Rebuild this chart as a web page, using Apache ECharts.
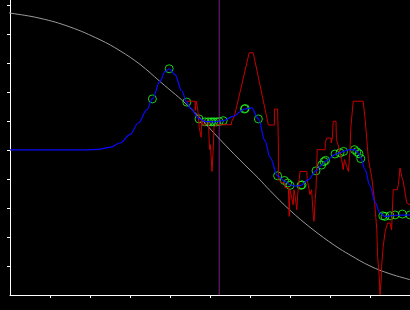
<!DOCTYPE html>
<html>
<head>
<meta charset="utf-8">
<script src="https://cdn.jsdelivr.net/npm/echarts@6/dist/echarts.min.js"></script>
<style>
html,body{margin:0;padding:0;background:#000;}
#chart{width:410px;height:310px;}
</style>
</head>
<body>
<div id="chart"></div>
<script>
// Axis ticks
const xTicks = [1, 2, 3, 4, 5, 6, 7, 8, 9];
const yTicks = [1, 2, 3, 4, 5, 6, 7, 8, 9, 10];

// Gray reference curve
const grayCurve = [[-0.25, 9.76], [0, 9.72], [0.75, 9.54], [1.5, 9.24], [2.25, 8.80], [2.75, 8.42], [3.25, 7.95], [3.75, 7.36], [4.5, 6.46], [5.25, 5.36], [5.75, 4.65], [6.2, 4.04], [6.5, 3.60], [7.0, 2.92], [7.55, 2.28], [8.125, 1.70], [8.5, 1.38], [9.0, 1.0], [9.5, 0.73], [10, 0.53]];

// Blue smooth curve
const blueCurve = [[0, 5.0], [1.875, 5.0], [2.2, 5.02], [2.5, 5.09], [2.75, 5.24], [3.0, 5.53], [3.21, 5.93], [3.42, 6.38], [3.56, 6.76], [3.75, 7.37], [3.875, 7.70], [3.98, 7.80], [4.125, 7.60], [4.29, 7.05], [4.42, 6.65], [4.5, 6.45], [4.725, 6.08], [4.875, 5.98], [5.1, 5.97], [5.33, 6.01], [5.58, 6.16], [5.86, 6.41], [6.04, 6.45], [6.21, 6.07], [6.375, 5.32], [6.5, 4.75], [6.69, 4.11], [6.86, 3.93], [7.0, 3.80], [7.125, 3.75], [7.275, 3.78], [7.46, 3.98], [7.65, 4.28], [7.79, 4.48], [7.89, 4.62], [8.125, 4.84], [8.25, 4.91], [8.34, 4.95], [8.5, 5.01], [8.61, 5.01], [8.67, 4.95], [8.725, 4.86], [8.77, 4.72], [8.875, 4.32], [9.0, 3.76], [9.125, 3.20], [9.25, 2.82], [9.375, 2.71], [9.625, 2.75], [10, 2.76]];

// Red jagged series
const redSeries = [[4.42, 6.68], [4.63, 6.68], [4.63, 6.36], [4.66, 6.36], [4.66, 6.68], [4.70, 6.68], [4.70, 6.32], [4.73, 6.32], [4.73, 5.77], [4.76, 5.77], [4.78, 5.44], [4.79, 6.05], [4.83, 6.05], [4.83, 5.86], [4.90, 5.86], [4.90, 5.98], [4.96, 5.98], [4.99, 5.01], [5.01, 5.18], [5.05, 4.26], [5.08, 5.01], [5.10, 5.80], [5.17, 5.87], [5.54, 5.87], [5.54, 5.98], [5.61, 6.16], [5.98, 8.35], [6.08, 8.35], [6.46, 5.86], [6.61, 5.86], [6.61, 6.41], [6.69, 6.41], [6.71, 5.25], [6.71, 3.98], [6.78, 3.87], [6.85, 3.87], [6.88, 3.70], [6.96, 3.70], [6.98, 2.71], [7.00, 3.63], [7.05, 3.63], [7.08, 3.11], [7.10, 3.63], [7.13, 3.40], [7.17, 2.94], [7.19, 3.42], [7.23, 3.42], [7.25, 4.26], [7.42, 4.26], [7.43, 3.98], [7.48, 3.98], [7.50, 3.46], [7.54, 3.63], [7.58, 2.77], [7.60, 2.54], [7.63, 3.29], [7.65, 3.63], [7.68, 5.01], [7.88, 5.01], [7.88, 5.24], [7.92, 5.41], [8.03, 5.41], [8.03, 5.24], [8.06, 5.42], [8.08, 5.99], [8.15, 5.99], [8.16, 5.36], [8.20, 5.18], [8.25, 4.90], [8.29, 4.67], [8.33, 4.32], [8.36, 4.67], [8.41, 4.67], [8.46, 4.26], [8.50, 5.01], [8.52, 5.76], [8.58, 6.68], [8.83, 6.68], [8.88, 6.04], [8.92, 5.36], [8.96, 4.67], [9.00, 4.67], [9.04, 4.09], [9.11, 3.29], [9.17, 2.25], [9.19, 1.33], [9.23, 0.64], [9.25, 0.01], [9.28, 0.53], [9.29, 0.99], [9.33, 1.68], [9.38, 2.19], [9.44, 2.48], [9.50, 2.48], [9.54, 2.25], [9.58, 3.63], [9.68, 3.63], [9.71, 3.80], [9.75, 4.38], [9.79, 4.38], [9.80, 4.05], [9.83, 3.92], [9.88, 3.92], [9.92, 3.17], [9.96, 3.11], [10.0, 3.11]];

// Green sample markers
const samplePoints = [[3.56, 6.76], [3.98, 7.80], [4.42, 6.65], [4.725, 6.07], [4.875, 5.97], [4.96, 5.97], [5.03, 5.97], [5.09, 5.97], [5.16, 5.97], [5.23, 5.98], [5.33, 6.01], [5.86, 6.41], [5.88, 6.43], [6.21, 6.07], [6.69, 4.11], [6.86, 3.95], [6.94, 3.86], [7.0, 3.78], [7.275, 3.78], [7.30, 3.80], [7.65, 4.28], [7.79, 4.48], [7.85, 4.60], [7.89, 4.64], [8.125, 4.86], [8.25, 4.90], [8.34, 4.95], [8.61, 5.01], [8.67, 4.94], [8.725, 4.87], [8.77, 4.70], [9.32, 2.73], [9.375, 2.71], [9.5, 2.73], [9.625, 2.76], [9.81, 2.79], [10, 2.76]];

// Vertical cursor
const cursorX = [5.23];
const yMax = 10.17;

const chart = echarts.init(document.getElementById('chart'), null, {renderer: 'canvas'});
const axisCommon = {
  type: 'value',
  axisLine: {show: true, lineStyle: {color: '#fff', width: 1}},
  axisLabel: {show: false},
  splitLine: {show: false},
  interval: 1,
  min: 0
};
chart.setOption({
  backgroundColor: '#000',
  animation: false,
  grid: {left: 10, right: 0, top: 0, bottom: 15},
  xAxis: Object.assign({}, axisCommon, {
    max: 10,
    axisTick: {show: true, length: 3, lineStyle: {color: '#fff'}, customValues: xTicks}
  }),
  yAxis: Object.assign({}, axisCommon, {
    max: yMax,
    axisTick: {show: true, length: 3, lineStyle: {color: '#fff'}, customValues: yTicks}
  }),
  series: [
    {
      type: 'line', symbol: 'none', silent: true,
      data: [[cursorX[0], 0], [cursorX[0], yMax]],
      lineStyle: {color: '#7a2080', width: 1}
    },
    {
      type: 'line', symbol: 'none', smooth: 0.4, clip: false,
      data: grayCurve,
      lineStyle: {color: '#9a9a9a', width: 1}
    },
    {
      type: 'line', symbol: 'none',
      data: redSeries,
      lineStyle: {color: '#c80000', width: 1}
    },
    {
      type: 'line', symbol: 'none', smooth: 0.35, smoothMonotone: 'x',
      data: blueCurve,
      lineStyle: {color: '#0a0aff', width: 1.2}
    },
    {
      type: 'scatter', symbol: 'circle', symbolSize: 8, clip: false,
      data: samplePoints,
      itemStyle: {color: 'rgba(0,0,0,0)', borderColor: '#22ff22', borderWidth: 1}
    }
  ]
});
</script>
</body>
</html>
